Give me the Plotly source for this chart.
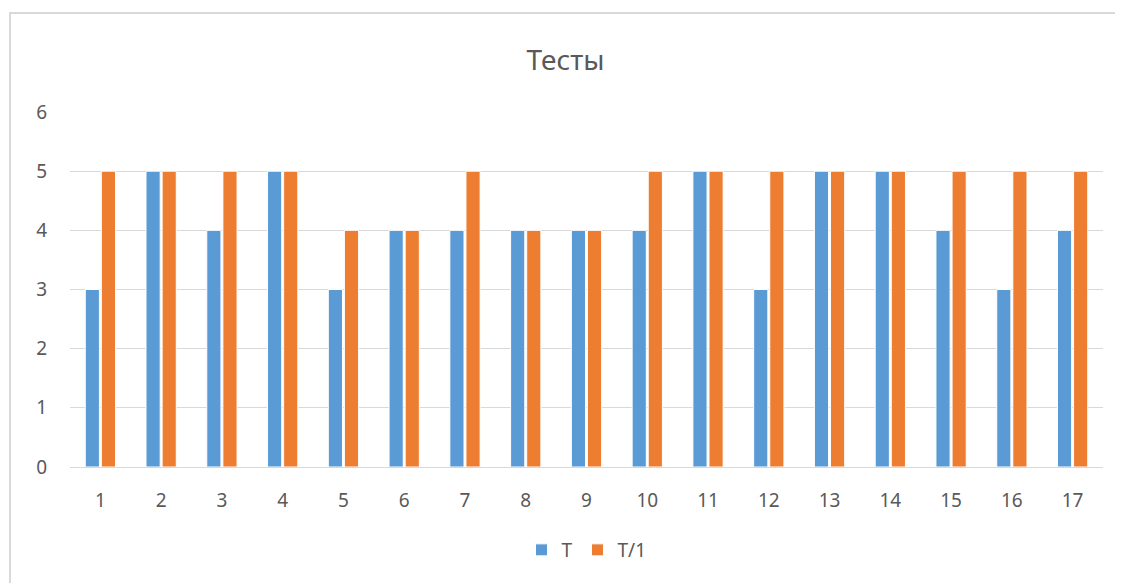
import plotly.graph_objects as go

categories = [str(i) for i in range(1, 18)]
t_values = [3, 5, 4, 5, 3, 4, 4, 4, 4, 4, 5, 3, 5, 5, 4, 3, 4]
t1_values = [5, 5, 5, 5, 4, 4, 5, 4, 4, 5, 5, 5, 5, 5, 5, 5, 5]

# page body adds an 8px offset, so the figure is drawn 8px smaller
off = 8
W, H = 1123 - off, 583 - off
ml, mr, mt = 70 - off, 20, 112 - off
ph = 355
mb = H - mt - ph
pw = W - ml - mr

fig = go.Figure()
fig.add_trace(go.Bar(x=categories, y=t_values, name="T",
                     marker=dict(color="#5B9BD5", line=dict(color="white", width=1))))
fig.add_trace(go.Bar(x=categories, y=t1_values, name="T/1",
                     marker=dict(color="#ED7D31", line=dict(color="white", width=1))))

# chart frame
fig.add_shape(type="rect", xref="paper", yref="paper",
              x0=(10 - off - ml) / pw, x1=(1121 - off - ml) / pw,
              y0=-(mb + 30) / ph, y1=1 + (mt - (13 - off)) / ph,
              line=dict(color="#D9D9D9", width=2), layer="below")

fig.update_layout(
    width=W, height=H,
    margin=dict(l=ml, r=mr, t=mt, b=mb),
    paper_bgcolor="white", plot_bgcolor="white",
    font=dict(family="Noto Sans, Open Sans, sans-serif", color="#595959", size=19),
    title=dict(text="Тесты", x=0.5, xanchor="center", y=1 - (60 - off) / H, yanchor="middle",
               font=dict(size=28, color="#595959")),
    barmode="group", bargap=0.47, bargroupgap=0.12,
    showlegend=True,
    legend=dict(orientation="h", x=0.5, xanchor="center", y=-(550 - 467) / ph, yanchor="middle",
                font=dict(size=19, color="#595959")),
    xaxis=dict(showgrid=False, showline=True, linecolor="#D9D9D9", linewidth=1,
               ticks="", ticklabelstandoff=16),
    yaxis=dict(range=[0, 6], dtick=1, showgrid=True, gridcolor="#D9D9D9", gridwidth=1,
               zeroline=False, showline=False, ticks="", ticklabelstandoff=22),
)

fig.write_html("out.html")
